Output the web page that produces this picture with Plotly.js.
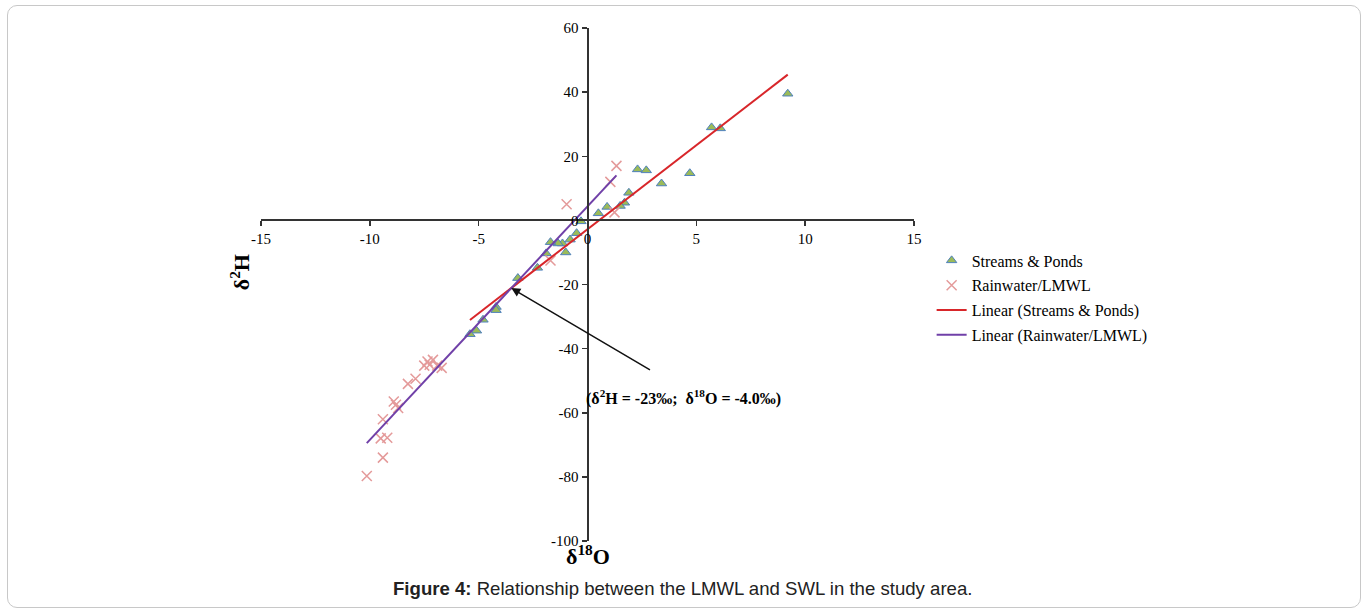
<!DOCTYPE html>
<html>
<head>
<meta charset="utf-8">
<script src="https://cdn.plot.ly/plotly-3.0.1.min.js"></script>
<style>
  html, body { margin: 0; padding: 0; background: #fff; }
  #chart { width: 1367px; height: 608px; }
  #frame {
    position: absolute; left: 7px; top: 5px; width: 1352px; height: 601px;
    border: 1px solid #c8c8c8; border-radius: 10px; pointer-events: none;
  }
</style>
</head>
<body>
<div id="chart"></div>
<div id="frame"></div>
<script>
// Surface water samples (streams and ponds): δ18O and δ2H in ‰
const streamsO18 = [9.2, 5.7, 6.1, 2.3, 2.7, 4.7, 3.4, 1.9, 1.7, 1.5, 0.9, 0.5, -0.3, -0.5,
  -0.8, -1.15, -1.35, -1.7, -1.0, -1.9, -2.3, -3.2, -4.2, -4.2, -4.8, -5.1, -5.4];
const streamsH2 = [39.5, 29, 28.7, 15.9, 15.6, 14.7, 11.5, 8.6, 5.5, 4.5, 4.2, 2.2, -0.3, -4,
  -6, -7.2, -7.2, -6.8, -10, -10.3, -14.8, -18, -27, -28, -31, -34.4, -35.5];

// Rainwater samples (local meteoric water line)
const rainO18 = [1.33, 1.05, -0.96, 1.24, -1.7, -10.14, -9.4, -9.5, -9.2, -9.4, -8.9, -8.8,
  -8.7, -8.25, -7.9, -7.35, -7.1, -7.5, -6.9, -6.7, -7.25];
const rainH2 = [17, 12, 5, 2.5, -12.5, -79.7, -74, -68, -67.8, -62, -56.5, -57.5,
  -58.5, -51, -49.4, -44, -43.5, -45.3, -45.3, -46, -45];

const xTicks = [-15, -10, -5, 0, 5, 10, 15];
const xTickText = ['-15', '-10', '-5', '0', '5', '10', '15'];
const yTicks = [-100, -80, -60, -40, -20, 0, 20, 40, 60];
const yTickText = ['-100', '-80', '-60', '-40', '-20', '0', '20', '40', '60'];
const intersectLabel = '<b>(δ<sup>2</sup>H = -23‰;  δ<sup>18</sup>O = -4.0‰)</b>';

// Least-squares linear trendline over the data range
function linearFit(xs, ys) {
  const n = xs.length;
  const mx = xs.reduce((a, b) => a + b, 0) / n;
  const my = ys.reduce((a, b) => a + b, 0) / n;
  let sxx = 0, sxy = 0;
  for (let i = 0; i < n; i++) {
    sxx += (xs[i] - mx) * (xs[i] - mx);
    sxy += (xs[i] - mx) * (ys[i] - my);
  }
  const slope = sxy / sxx;
  return { slope, intercept: my - slope * mx, min: Math.min(...xs), max: Math.max(...xs) };
}
const swl = linearFit(streamsO18, streamsH2);
const lmwl = linearFit(rainO18, rainH2);
const lineXY = f => ({ x: [f.min, f.max], y: [f.slope * f.min + f.intercept, f.slope * f.max + f.intercept] });
const swlLine = lineXY(swl);
const lmwlLine = lineXY(lmwl);
// Point where the two water lines meet
const crossX = (lmwl.intercept - swl.intercept) / (swl.slope - lmwl.slope);
const crossY = swl.slope * crossX + swl.intercept;

const serif = 'Liberation Serif, Times New Roman, serif';

const traces = [
  { type: 'scatter', mode: 'markers', name: 'Streams & Ponds', x: streamsO18, y: streamsH2, legendgroup: 'a',
    marker: { symbol: 'triangle-up', size: 9, color: '#9bbb59', line: { color: '#4f81bd', width: 1 } } },
  { type: 'scatter', mode: 'markers', name: 'Rainwater/LMWL', x: rainO18, y: rainH2, legendgroup: 'b',
    marker: { symbol: 'x-thin-open', size: 10, color: '#e49a9a', line: { color: '#e49a9a', width: 1.5 } } },
  { type: 'scatter', mode: 'lines', name: 'Linear (Streams & Ponds)', x: swlLine.x, y: swlLine.y, legendgroup: 'c',
    line: { color: '#d8262a', width: 2 } },
  { type: 'scatter', mode: 'lines', name: 'Linear (Rainwater/LMWL)', x: lmwlLine.x, y: lmwlLine.y, legendgroup: 'd',
    line: { color: '#7040a8', width: 2 } }
];

const axisCommon = {
  showgrid: false, zeroline: false, showline: true, linecolor: '#333', linewidth: 2,
  ticks: 'outside', ticklen: 5, tickwidth: 1.5, tickcolor: '#333',
  tickfont: { family: serif, size: 15, color: '#000' }, anchor: 'free'
};

const layout = {
  width: 1367, height: 608,
  margin: { l: 261, r: 453, t: 28, b: 67 },
  paper_bgcolor: '#fff', plot_bgcolor: '#fff',
  showlegend: true, hovermode: false,
  xaxis: Object.assign({}, axisCommon, { range: [-15, 15], tickvals: xTicks, ticktext: xTickText, position: 0.625 }),
  yaxis: Object.assign({}, axisCommon, { range: [-100, 60], tickvals: yTicks, ticktext: yTickText, position: 0.5 }),
  legend: { x: 1.027, y: 0.58, xanchor: 'left', yanchor: 'top', bgcolor: 'rgba(0,0,0,0)',
    font: { family: serif, size: 16, color: '#000' }, tracegroupgap: 1 },
  annotations: [
    { xref: 'paper', yref: 'paper', x: -0.032, y: 0.524, xanchor: 'center', yanchor: 'middle',
      text: '<b>δ<sup>2</sup>H</b>', showarrow: false, textangle: -90,
      font: { family: serif, size: 22, color: '#000' } },
    { xref: 'paper', yref: 'paper', x: 0.5, y: -0.027, xanchor: 'center', yanchor: 'middle',
      text: '<b>δ<sup>18</sup>O</b>', showarrow: false, font: { family: serif, size: 22, color: '#000' } },
    { xref: 'x', yref: 'y', x: crossX, y: crossY, ax: 2.94, ay: -46.9, axref: 'x', ayref: 'y',
      text: '', showarrow: true, arrowhead: 2, arrowsize: 1.2, arrowwidth: 1.5, arrowcolor: '#111' },
    { xref: 'x', yref: 'y', x: 4.43, y: -55.3, xanchor: 'center', yanchor: 'middle', text: intersectLabel,
      showarrow: false, font: { family: serif, size: 16, color: '#000' } },
    { xref: 'paper', yref: 'paper', x: 0.646, y: -0.092, xanchor: 'center', yanchor: 'middle',
      text: '<b>Figure 4:</b> Relationship between the LMWL and SWL in the study area.',
      showarrow: false, font: { family: 'Liberation Sans, Arial, sans-serif', size: 18.6, color: '#222' } }
  ]
};

Plotly.newPlot('chart', traces, layout, { displayModeBar: false, staticPlot: true });
</script>
</body>
</html>
